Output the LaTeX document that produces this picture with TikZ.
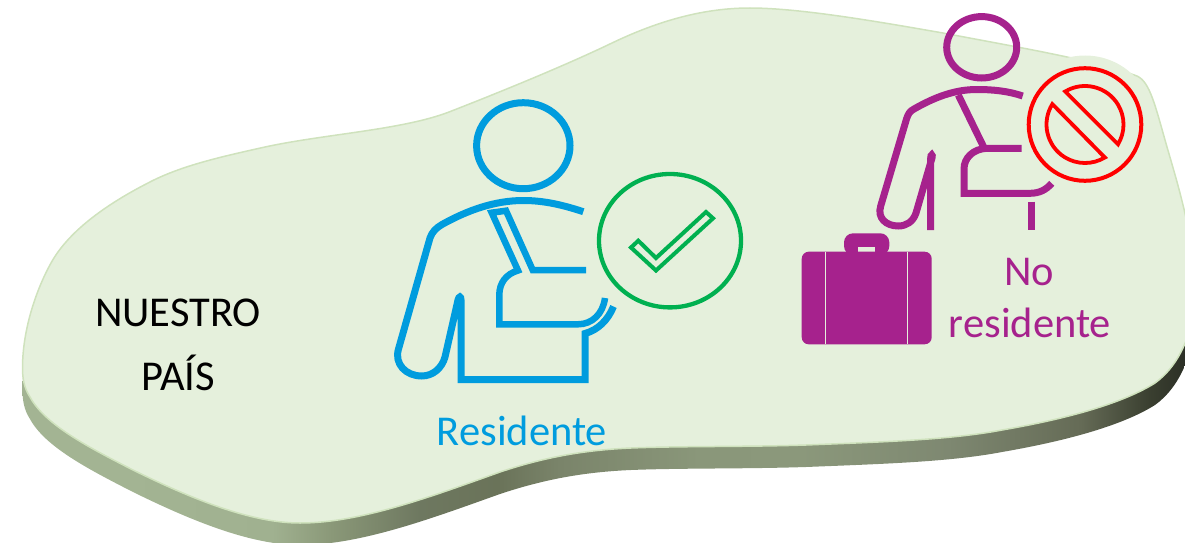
\documentclass[tikz,border=0pt]{standalone}
\usepackage{fontspec}
\setmainfont{Carlito}
\definecolor{land}{HTML}{E5F0DC}
\definecolor{landedge}{HTML}{CFE2BD}
\definecolor{resblue}{HTML}{009CDE}
\definecolor{nopurple}{HTML}{A6228D}
\definecolor{okgreen}{HTML}{00B050}
\definecolor{sa}{HTML}{A3B493}
\definecolor{sb}{HTML}{A0B190}
\definecolor{sc}{HTML}{8A9878}
\definecolor{sd}{HTML}{6E7860}
\definecolor{se}{HTML}{6A7359}
\definecolor{sf}{HTML}{7A846A}
\definecolor{sg}{HTML}{8A977A}
\definecolor{sh}{HTML}{8B987B}
\definecolor{si}{HTML}{7E8871}
\definecolor{sj}{HTML}{656B56}
\definecolor{sk}{HTML}{3A3F30}
\definecolor{sl}{HTML}{2C3026}
\pgfdeclarehorizontalshading{sidegrad}{100bp}{
 color(0bp)=(sa);color(25bp)=(sa);color(30bp)=(sa);
 color(36.5bp)=(sb);color(39bp)=(sc);color(42.7bp)=(sd);
 color(46bp)=(se);color(48.6bp)=(sf);color(54.5bp)=(sg);
 color(58.8bp)=(sh);color(65bp)=(si);color(70.6bp)=(sj);
 color(73.5bp)=(sk);color(75bp)=(sl);color(100bp)=(sl)}
\newcommand{\blobpath}{(22.5,368)
 .. controls (22.5,330) and (36,290) .. (51,263)
 .. controls (68,232) and (105,205) .. (148,183)
 .. controls (180,166) and (220,157) .. (265,147)
 .. controls (325,134) and (402,130) .. (449,112)
 .. controls (490,96) and (560,68) .. (612,43)
 .. controls (660,20) and (705,8) .. (750,8)
 .. controls (800,8) and (880,22) .. (943,33)
 .. controls (985,41) and (1030,49) .. (1067,57)
 .. controls (1090,62) and (1115,68) .. (1137,76)
 .. controls (1150,82) and (1155,105) .. (1167,147)
 .. controls (1178,185) and (1195,240) .. (1195,290)
 .. controls (1195,330) and (1180,365) .. (1155,383)
 .. controls (1120,405) and (1060,420) .. (1002,430)
 .. controls (950,440) and (880,442) .. (806,445)
 .. controls (745,447) and (680,446) .. (631,448)
 .. controls (585,450) and (545,457) .. (500,472)
 .. controls (430,497) and (360,523) .. (300,523)
 .. controls (250,523) and (190,498) .. (133,470)
 .. controls (90,448) and (45,425) .. (30,397)
 .. controls (24,388) and (22.5,378) .. (22.5,368) -- cycle}
\tikzset{
 x=1pt,y=-1pt,
 blueline/.style={draw=resblue,line width=7pt,line join=miter},
 purpleline/.style={draw=nopurple,line width=7pt,line join=miter},
 txt/.style={font=\fontsize{42.5}{50}\selectfont,anchor=base,inner sep=0pt,outer sep=0pt},
}
\begin{document}
\begin{tikzpicture}
\useasboundingbox (0,0) rectangle (1185,543);
\clip (0,0) rectangle (1185,543);
% extruded side
\begin{scope}
 \clip[yshift=-22pt] \blobpath;
 \shade[shading=sidegrad] (0,0) rectangle (1185,600);
\end{scope}
% top surface
\fill[land,draw=landedge,line width=1.5pt] \blobpath;
% halo around prohibition sign
\coordinate (nosign) at (1085,124.5);
\fill[land] (nosign) circle[radius=69pt];
% texts
\node[txt,text=black] (nuestro) at (178,326) {NUESTRO};
\node[txt,text=black] (pais) at (178,390) {PAÍS};
\node[txt,text=resblue] (res) at (522,445) {Residente};
\node[txt,text=nopurple] (no) at (1029,285) {No};
\node[txt,text=nopurple] (nores) at (1030,337) {residente};
% resident
\draw[blueline] (523.3,145.7) ellipse[x radius=46.7pt,y radius=43pt];
\draw[blueline] (583.3,211.7) .. controls (560,204) and (542,200.5) .. (523.3,200.5)
  .. controls (495,200.5) and (468,210) .. (442,224.5)
  .. controls (436,228) and (432,232) .. (430,238)
  -- (398.5,349) .. controls (394,364) and (406,376) .. (421.7,376)
  .. controls (433,376) and (442,368) .. (445,357)
  -- (458,300) .. controls (459,296) and (461,296) .. (461,300)
  -- (461,379.5) -- (585,379.5) -- (585,333.5)
  .. controls (598,330) and (608,320) .. (613.5,306.5);
\fill[resblue] (460.3,298.5) circle[radius=3.6pt];
\draw[blueline,line width=6.5pt] (586,270) -- (532.7,270) -- (506,210.7) -- (491.7,212.7) -- (518,270.5)
  .. controls (506,274) and (499.3,283) .. (499.3,295)
  -- (499.3,324.3) -- (578,324.3)
  .. controls (592,324.3) and (603,314) .. (605,298);
% check
\draw[okgreen,line width=4.3pt] (670,240.7) ellipse[x radius=71pt,y radius=66.7pt];
\draw[okgreen,line width=4pt,line join=miter] (631,247.5) -- (638.3,240.7) -- (656,258) -- (706,212) -- (713,218.3) -- (656,270.5) -- cycle;
% non resident
\draw[purpleline] (981.7,47.3) ellipse[x radius=35pt,y radius=30.7pt];
\draw[purpleline] (1022.7,96) .. controls (1008,91) and (993,89.5) .. (976.7,89.5)
  .. controls (955,89.5) and (935,97) .. (914,109)
  .. controls (910,111) and (908,114) .. (906.5,119)
  -- (880.7,206) .. controls (877,218) and (886,226) .. (898.3,226)
  .. controls (906,226) and (913,222) .. (916,213)
  -- (932,158) .. controls (933,154) and (930.7,154) .. (930.7,158)
  -- (930.7,230);
\fill[nopurple] (931.4,156.5) circle[radius=3.6pt];
\draw[purpleline] (1031.7,201.7) -- (1031.7,230);
\draw[purpleline] (958.3,95) -- (984.3,148.3);
\draw[purpleline] (1021.7,148.3) -- (986.7,148.3)
  .. controls (973,149) and (964,158) .. (964,169)
  -- (964,193.3) -- (1030,193.3)
  .. controls (1039,193.3) and (1046,190) .. (1051.7,183.3);
% prohibition
\draw[red,line width=4pt] (nosign) circle[radius=56.3pt];
\draw[red,line width=3.8pt,line join=miter] ([shift={(121:38.5pt)}]nosign) arc[start angle=121,end angle=-31,radius=38.5pt] -- cycle;
\draw[red,line width=3.8pt,line join=miter] ([shift={(148:38.5pt)}]nosign) arc[start angle=148,end angle=301,radius=38.5pt] -- cycle;
% suitcase
\fill[nopurple,rounded corners=9pt] (844,255) -- (844,233.3) -- (889.3,233.3) -- (889.3,255) -- cycle;
\fill[land] (858,247.3) rectangle (875,253);
\fill[nopurple,rounded corners=7pt] (801.7,251.7) rectangle (931.7,344.3);
\draw[land,line width=1.3pt] (825.7,251.7) -- (825.7,344.3);
\draw[land,line width=1.3pt] (907.3,251.7) -- (907.3,344.3);
\end{tikzpicture}
\end{document}
